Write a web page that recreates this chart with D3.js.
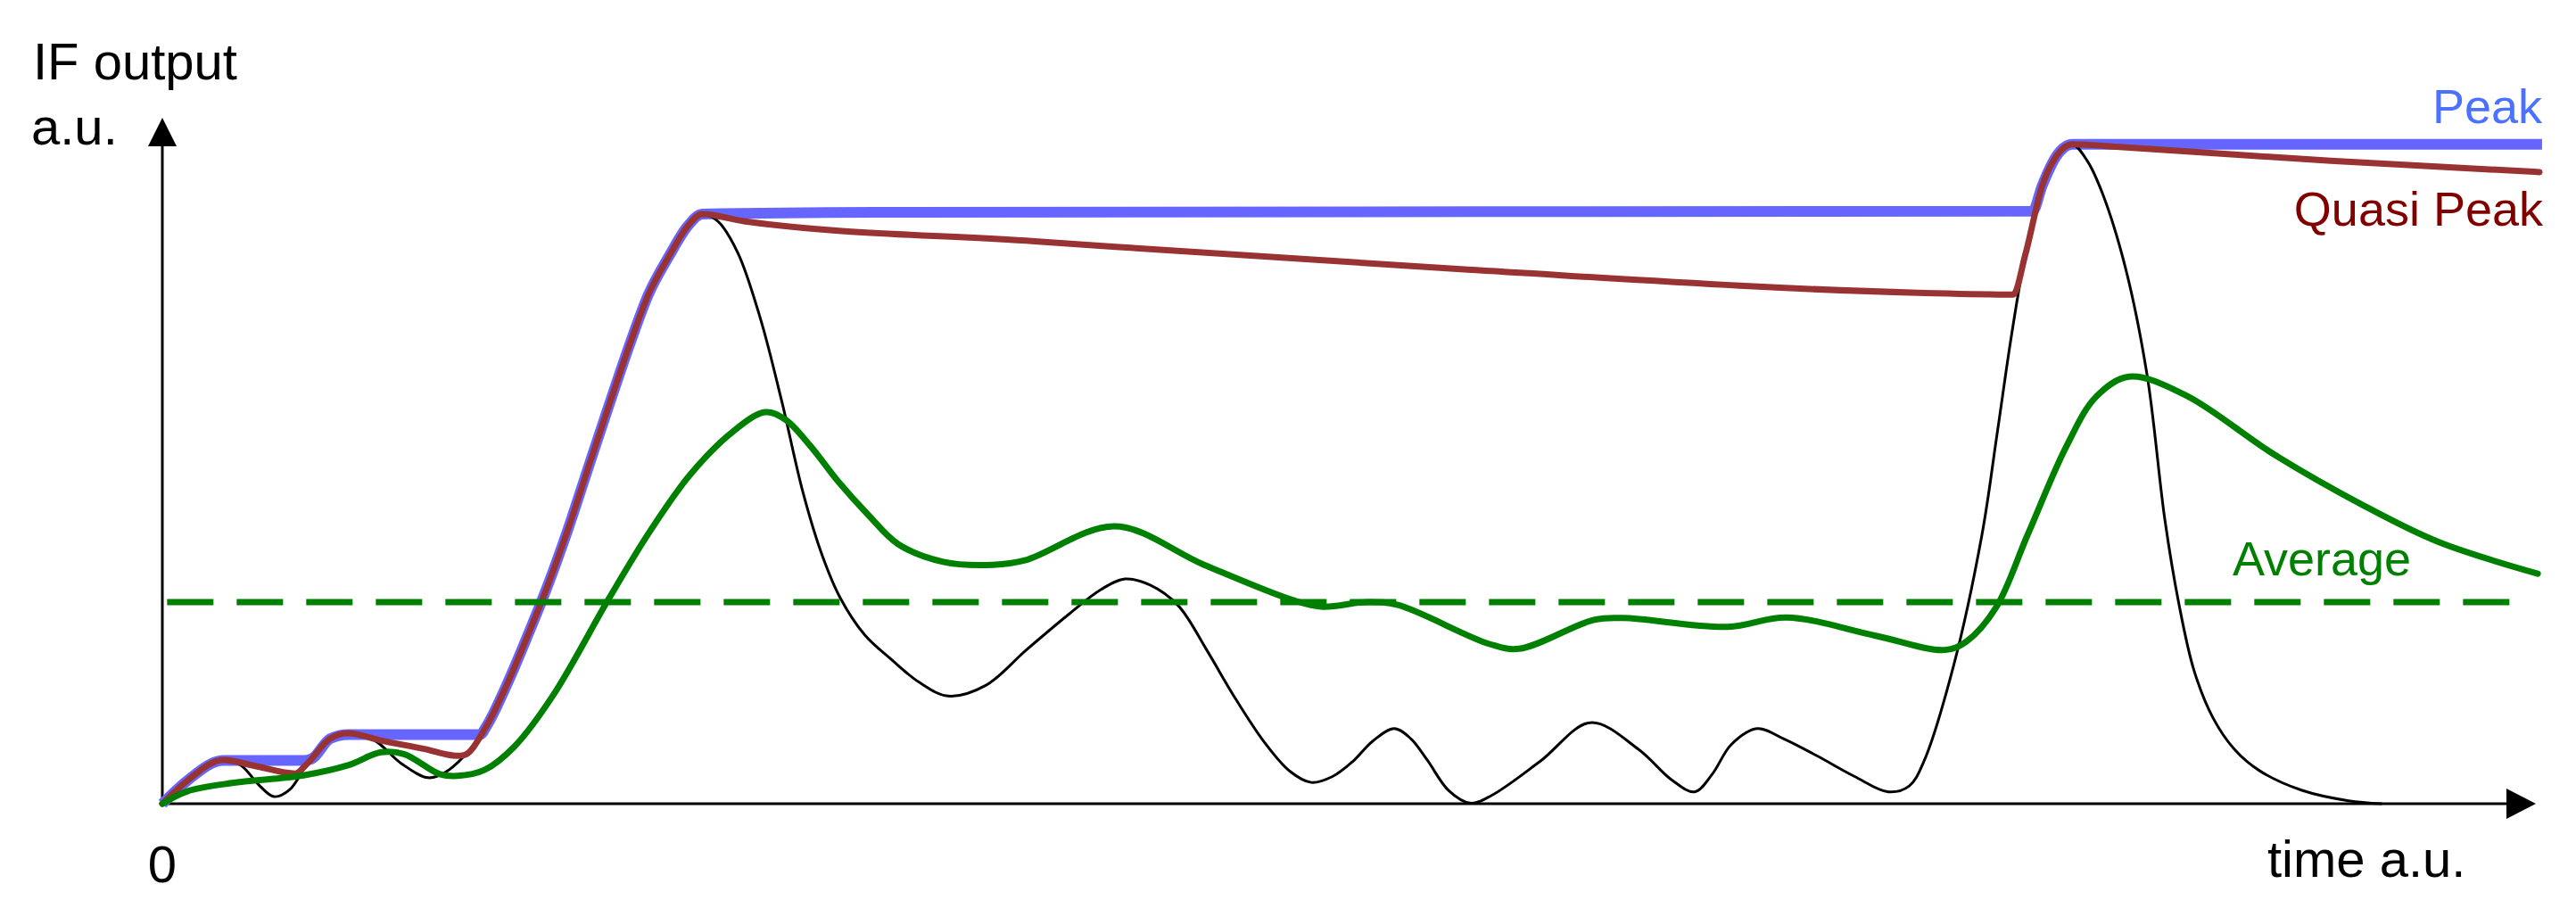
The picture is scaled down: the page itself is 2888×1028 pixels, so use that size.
<!DOCTYPE html>
<html>
<head>
<meta charset="utf-8">
<script src="https://cdn.jsdelivr.net/npm/d3@7"></script>
<style>
  html, body { margin: 0; padding: 0; background: #fff; }
  svg { display: block; }
  text { font-family: "Liberation Sans", Arial, sans-serif; }
</style>
</head>
<body>
<div id="chart"></div>
<script>
// time a.u. (0..100) / IF output a.u. (0..100 = first peak)
const signal = [
  [0, 0], [1.05, 3.9], [2.56, 7.4], [3.31, 6.5], [4.06, 3.2], [4.7, 1.2], [5.37, 2.4],
  [6.13, 6.9], [7.07, 11.0], [7.82, 11.9], [8.94, 10.7], [10.07, 6.8], [11.2, 4.4],
  [11.95, 5.4], [12.7, 8.0], [13.64, 13.0], [14.5, 20.0], [15.4, 28.5], [16.2, 36.5],
  [17.1, 46.5], [18.0, 57.5], [18.83, 67.5], [19.73, 78.1], [20.48, 86.1], [21.35, 92.6],
  [22.1, 97.5], [22.74, 99.7], [23.4, 98.5], [24.24, 93.2], [25.2, 82.0], [26.1, 68.0],
  [27.0, 52.5], [27.8, 42.0], [28.56, 34.8], [29.6, 28.5], [30.74, 24.3], [31.9, 20.5],
  [33.11, 18.2], [34.69, 20.0], [36.4, 26.0], [38.15, 31.9], [39.54, 36.2], [40.55, 38.0],
  [41.6, 37.0], [42.8, 33.5], [44.0, 26.0], [45.13, 18.3], [46.41, 10.5], [47.5, 5.5],
  [48.4, 3.6], [49.3, 4.6], [50.17, 7.2], [51.0, 10.6], [51.9, 12.7], [52.6, 11.0],
  [53.29, 7.4], [54.2, 2.2], [55.1, 0.1], [56.0, 1.4], [58.06, 7.2], [60.17, 13.7],
  [62.19, 9.2], [63.6, 4.0], [64.56, 2.0], [65.3, 5.0], [66.1, 10.0], [67.19, 12.7],
  [68.3, 11.0], [69.71, 8.1], [71.3, 4.6], [72.72, 2.0], [73.6, 3.0], [74.2, 7.0],
  [75.46, 23.2], [76.66, 45.4], [77.3, 62.5], [77.9, 79.0], [78.5, 93.0], [79.2, 104.5],
  [79.8, 109.5], [80.46, 111.5], [81.1, 108.7], [81.74, 103.2], [82.71, 90.6],
  [83.62, 72.5], [84.37, 48.0], [84.95, 34.0], [85.6, 22.5], [86.4, 14.5], [87.3, 9.2],
  [88.35, 5.6], [90.12, 2.3], [92.11, 0.5], [93.5, 0]
];

const peak = [
  [0, 0], [1.05, 3.9], [2.56, 7.3], [5.95, 7.3], [6.3, 7.6], [7.07, 11.0], [7.82, 11.7],
  [13.4, 11.7], [13.64, 13.0], [14.5, 20.0], [15.4, 28.5], [16.2, 36.5], [17.1, 46.5],
  [18.0, 57.5], [18.83, 67.5], [19.73, 78.1], [20.48, 86.1], [21.35, 92.6], [22.1, 97.5],
  [22.74, 99.7], [30, 100], [78.8, 100.2], [79.2, 104.5], [79.8, 109.5], [80.46, 111.5],
  [100.26, 111.5]
];

const quasiPeak = [
  [0, 0], [1.05, 3.9], [2.56, 7.4], [4.0, 6.3], [5.6, 5.1], [6.13, 6.9], [7.07, 11.0],
  [7.82, 11.9], [9.2, 10.7], [11.0, 9.3], [12.44, 8.1], [12.7, 8.2], [13.64, 13.0],
  [14.5, 20.0], [15.4, 28.5], [16.2, 36.5], [17.1, 46.5], [18.0, 57.5], [18.83, 67.5],
  [19.73, 78.1], [20.48, 86.1], [21.35, 92.6], [22.1, 97.5], [22.74, 99.7], [24.5, 98.5],
  [36.75, 95.1], [55, 90.3], [73.96, 86.4], [77.98, 86.1], [78.5, 93.0], [79.2, 104.5],
  [79.8, 109.5], [80.46, 111.5], [82.6, 111.0], [91.36, 108.7], [100.15, 106.8]
];

const average = [
  [0, 0], [1.05, 2.1], [2.93, 3.5], [5.94, 4.8], [7.82, 6.5], [9.21, 8.7], [10.18, 8.4],
  [11.69, 5.0], [12.44, 4.7], [13.57, 5.7], [14.84, 9.7], [16.46, 18.3], [18.83, 34.8],
  [20.5, 45.8], [22.21, 55.5], [24.0, 62.8], [25.4, 66.2], [26.23, 65.0], [27.3, 60.5],
  [28.49, 54.4], [29.75, 48.8], [31.0, 43.9], [32.9, 40.9], [34.99, 40.4], [36.38, 41.2],
  [40.14, 46.9], [43.89, 40.4], [47.65, 34.4], [48.89, 33.3], [50.77, 34.1], [52.05, 33.6],
  [55.92, 27.0], [57.16, 26.2], [60.32, 31.1], [61.56, 31.4], [65.95, 29.9], [68.43, 31.5],
  [72.19, 28.4], [75.1, 26.0], [76.0, 27.4], [77.26, 33.2], [78.58, 45.4], [80.23, 60.5],
  [81.47, 68.8], [82.86, 72.2], [85.23, 69.1], [88.99, 59.0], [92.75, 50.4], [95.87, 44.3],
  [100.08, 38.9]
];

const averageLevel = 34.1;
const averageSpan = [0.2, 99.8];

const width = 2888;
const height = 1028;

const svg = d3.select("#chart")
  .append("svg")
  .attr("width", width)
  .attr("height", height);

const x = d3.scaleLinear().domain([0, 100]).range([182, 2843]);
const y = d3.scaleLinear().domain([0, 100]).range([901, 238]);
const yTop = 116;

const smooth = d3.line()
  .x(d => x(d[0]))
  .y(d => y(d[1]))
  .curve(d3.curveCatmullRom.alpha(0.5));

// detector outputs keep their flat holds
const held = d3.line()
  .x(d => x(d[0]))
  .y(d => y(d[1]))
  .curve(d3.curveMonotoneX);

// axes with arrow heads
const axes = svg.append("g");
axes.append("line")
  .attr("x1", x(0)).attr("y1", y(0))
  .attr("x2", x(0)).attr("y2", y(yTop) + 28)
  .attr("stroke", "#000").attr("stroke-width", 3);
axes.append("path")
  .attr("d", `M${x(0)},${y(yTop)} L${x(0) - 16},${y(yTop) + 32} L${x(0) + 16},${y(yTop) + 32} Z`)
  .attr("fill", "#000");
axes.append("line")
  .attr("x1", x(0)).attr("y1", y(0))
  .attr("x2", x(100) - 28).attr("y2", y(0))
  .attr("stroke", "#000").attr("stroke-width", 3);
axes.append("path")
  .attr("d", `M${x(100)},${y(0)} L${x(100) - 33},${y(0) - 17} L${x(100) - 33},${y(0) + 17} Z`)
  .attr("fill", "#000");

const curves = svg.append("g")
  .attr("fill", "none")
  .attr("stroke-linejoin", "round")
  .attr("stroke-linecap", "round");

curves.append("path")
  .attr("d", held(peak))
  .attr("stroke", "#6666ff")
  .attr("stroke-width", 12)
  .attr("stroke-linecap", "butt");

curves.append("path")
  .attr("d", smooth(signal))
  .attr("stroke", "#000")
  .attr("stroke-width", 3);

curves.append("path")
  .attr("d", held(quasiPeak))
  .attr("stroke", "#993333")
  .attr("stroke-width", 7);

curves.append("path")
  .attr("d", smooth(average))
  .attr("stroke", "#008000")
  .attr("stroke-width", 7);

curves.append("line")
  .attr("x1", x(averageSpan[0])).attr("x2", x(averageSpan[1]))
  .attr("y1", y(averageLevel)).attr("y2", y(averageLevel))
  .attr("stroke", "#008000")
  .attr("stroke-width", 7)
  .attr("stroke-linecap", "butt")
  .attr("stroke-dasharray", "52,26");

// labels
const labels = svg.append("g");
labels.append("text").attr("x", 37).attr("y", 89)
  .attr("font-size", 58).attr("fill", "#000").text("IF output");
labels.append("text").attr("x", 35).attr("y", 162)
  .attr("font-size", 58).attr("fill", "#000").text("a.u.");
labels.append("text").attr("x", x(0)).attr("y", 989)
  .attr("text-anchor", "middle")
  .attr("font-size", 58).attr("fill", "#000").text("0");
labels.append("text").attr("x", 2542).attr("y", 983)
  .attr("font-size", 58).attr("fill", "#000").text("time a.u.");
labels.append("text").attr("x", 2850).attr("y", 138)
  .attr("text-anchor", "end")
  .attr("font-size", 54).attr("fill", "#4a72ff").text("Peak");
labels.append("text").attr("x", 2851).attr("y", 253)
  .attr("text-anchor", "end")
  .attr("font-size", 54).attr("fill", "#800000").text("Quasi Peak");
labels.append("text").attr("x", 2503).attr("y", 645)
  .attr("font-size", 54).attr("fill", "#008000").text("Average");
</script>
</body>
</html>
